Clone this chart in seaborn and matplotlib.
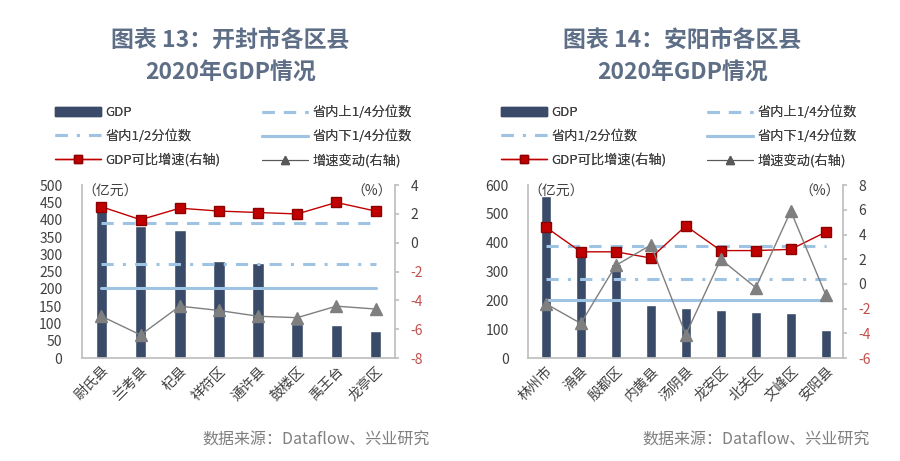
import numpy as np
import pandas as pd
import matplotlib
matplotlib.use('Agg')
import matplotlib.pyplot as plt
import seaborn as sns
from matplotlib.lines import Line2D
from matplotlib.patches import Patch

sns.set_theme(style='white')
plt.rcParams['font.family'] = ['Noto Sans CJK SC', 'DejaVu Sans']

# 开封市
kf_names = ['尉氏县', '兰考县', '杞县', '祥符区', '通许县', '鼓楼区', '禹王台', '龙亭区']
kf_gdp = [432, 381, 370, 281, 276, 99, 95, 77]
kf_growth = [2.5, 1.6, 2.4, 2.2, 2.1, 2.0, 2.8, 2.2]
kf_change = [-5.1, -6.4, -4.4, -4.7, -5.1, -5.2, -4.4, -4.6]

# 安阳市
ay_names = ['林州市', '滑县', '殷都区', '内黄县', '汤阴县', '龙安区', '北关区', '文峰区', '安阳县']
ay_gdp = [562, 389, 327, 183, 173, 165, 159, 156, 97]
ay_growth = [4.6, 2.6, 2.6, 2.1, 4.7, 2.7, 2.7, 2.8, 4.2]
ay_change = [-1.6, -3.2, 1.5, 3.15, -4.1, 2.0, -0.3, 5.9, -0.9]

# 省内分位数 (亿元)
q_upper = 390
q_mid = 273
q_lower = 202

bar_color = '#3a4b69'
q_color = '#9ec3e3'
red = '#c00000'
gray = '#7f7f7f'
title_color = '#5d6e86'


def drawChart(fig, rect, names, gdp, growth, change, ymax, ystep, rlim,
              title, title_x, leg_x, src_x):
    ax = fig.add_axes(rect)
    n = len(names)
    x = np.arange(n)
    df = pd.DataFrame({'name': names, 'gdp': gdp})
    sns.barplot(data=df, x='name', y='gdp', color=bar_color, width=0.3,
                saturation=1, ax=ax)
    ax.plot(x, [q_upper] * n, color=q_color, lw=2.2, ls=(0, (4, 3)))
    ax.plot(x, [q_mid] * n, color=q_color, lw=2.2, ls=(0, (4, 3, 1, 3)))
    ax.plot(x, [q_lower] * n, color=q_color, lw=2.2)
    ax.set_xlim(-0.5, n - 0.5)
    ax.set_ylim(0, ymax)
    ax.set_yticks(np.arange(0, ymax + 1, ystep))
    ax.set_xlabel('')
    ax.set_ylabel('')
    ax.set_xticks(x)
    ax.set_xticklabels(names, rotation=45, ha='right', rotation_mode='anchor',
                       fontsize=10, color='#404040')
    ax.set_xticks(np.arange(-0.5, n, 1), minor=True)
    ax.tick_params(axis='x', which='major', length=0, pad=4)
    ax.tick_params(axis='x', which='minor', length=3, color='#bfbfbf', direction='in')
    ax.tick_params(axis='y', labelsize=10, labelcolor='#404040', length=0, pad=14)
    for s in ['top', 'right']:
        ax.spines[s].set_visible(False)
    for s in ['left', 'bottom']:
        ax.spines[s].set_color('#bfbfbf')
    ax.text(0.0, 0.96, '（亿元）', transform=ax.transAxes, fontsize=10,
            color='#404040', va='center', ha='left')
    ax.text(0.99, 0.96, '（%）', transform=ax.transAxes, fontsize=10,
            color='#404040', va='center', ha='right')

    ax2 = ax.twinx()
    ax2.plot(x, growth, color=red, lw=1, marker='s', ms=7.5, mfc=red, mec='#8b0000')
    ax2.plot(x, change, color=gray, lw=1, marker='^', ms=8, mfc=gray, mec=gray)
    ax2.set_ylim(rlim[0], rlim[1])
    ticks = np.arange(rlim[0], rlim[1] + 1, 2)
    ax2.set_yticks(ticks)
    ax2.set_yticklabels([str(t) for t in ticks])
    for lab, t in zip(ax2.get_yticklabels(), ticks):
        lab.set_color('#c0504d' if t < 0 else '#404040')
    ax2.tick_params(axis='y', labelsize=10, length=3, color='#bfbfbf', pad=8)
    ax2.grid(False)
    for s in ['top', 'left', 'bottom']:
        ax2.spines[s].set_visible(False)
    ax2.spines['right'].set_color('#bfbfbf')

    # two-line title
    fig.text(title_x, 0.913, title[0], ha='center', va='center', fontsize=16.5,
             fontweight='bold', color=title_color)
    fig.text(title_x, 0.844, title[1], ha='center', va='center', fontsize=16.5,
             fontweight='bold', color=title_color)

    col1 = [
        (Patch(color=bar_color), 'GDP'),
        (Line2D([], [], color=q_color, lw=2.2, ls=(0, (4, 3, 1, 3))), '省内1/2分位数'),
        (Line2D([], [], color=red, lw=1, marker='s', ms=6, mfc=red, mec='#8b0000'),
         'GDP可比增速(右轴)'),
    ]
    col2 = [
        (Line2D([], [], color=q_color, lw=2.2, ls=(0, (4, 3))), '省内上1/4分位数'),
        (Line2D([], [], color=q_color, lw=2.2), '省内下1/4分位数'),
        (Line2D([], [], color='#595959', lw=0.8, marker='^', ms=6, mfc='#595959',
                mec='#595959'), '增速变动(右轴)'),
    ]
    # one legend per column so the columns sit where they do in the original
    for items, lx in zip([col1, col2], leg_x):
        leg = fig.legend([h for h, _ in items], [l for _, l in items], loc='upper left',
                         bbox_to_anchor=(lx, 1 - 106 / 461), frameon=False,
                         fontsize=9.5, handlelength=3.5, labelspacing=0.78,
                         handletextpad=0.3, borderaxespad=0, borderpad=0,
                         labelcolor='#404040')
        fig.add_artist(leg)

    fig.text(src_x, 0.045, '数据来源：Dataflow、兴业研究',
             ha='right', va='center', fontsize=11.5, color='#7f7f7f')


fig = plt.figure(figsize=(9, 4.61), dpi=100)
drawChart(fig, [0.091, 0.2234, 0.348, 0.375], kf_names, kf_gdp, kf_growth, kf_change,
          500, 50, (-8, 4), ['图表 13：开封市各区县', '2020年GDP情况'],
          0.256, (55 / 900, 262 / 900), 430 / 900)
drawChart(fig, [0.587, 0.2234, 0.35, 0.375], ay_names, ay_gdp, ay_growth, ay_change,
          600, 100, (-6, 8), ['图表 14：安阳市各区县', '2020年GDP情况'],
          0.758, (501 / 900, 707 / 900), 870 / 900)

fig.savefig('out.png', dpi=100, facecolor='white')
